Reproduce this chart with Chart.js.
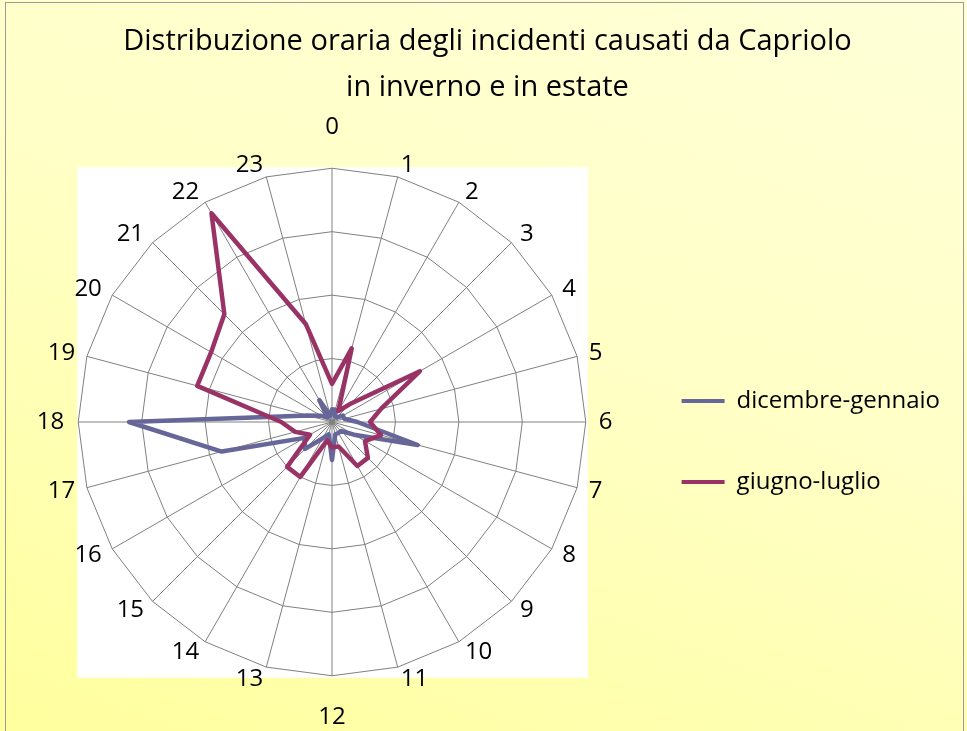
<!DOCTYPE html>
<html><head><meta charset="utf-8">
<script src="https://cdn.jsdelivr.net/npm/chart.js@4.4.1/dist/chart.umd.min.js"></script>
<style>
html,body{margin:0;padding:0;}
body{width:967px;height:731px;overflow:hidden;position:relative;
 background:linear-gradient(200deg,#FFFFD8 0%,#FFFFC6 45%,#FFFF9E 100%);}
#frame{position:absolute;left:5px;top:2px;width:959px;height:740px;border:1px solid #9a9a9a;box-sizing:border-box;}
#wrap{position:absolute;left:0;top:0;width:967px;height:731px;}
</style></head><body>
<div id="frame"></div>
<div id="wrap"><canvas id="c" width="967" height="731"></canvas></div>
<script>
// ---- data ----
const hours = ['0','1','2','3','4','5','6','7','8','9','10','11','12','13','14','15','16','17','18','19','20','21','22','23'];
const seriesNames = ['dicembre-gennaio', 'giugno-luglio'];
const winter = [1, 1, 0.5, 0.5, 1, 1, 2, 7, 2, 1, 1, 1, 3, 1, 1.5, 3, 2.5, 9, 16, 2, 1, 0.5, 2, 0.5];
const summer = [3, 6, 1, 2, 8, 4, 3, 4, 3, 4, 4, 2, 2, 1.5, 5, 5, 2, 3, 4, 11, 11, 12, 19, 8];
const titleLines = ['Distribuzione oraria degli incidenti causati da Capriolo', 'in inverno e in estate'];
const scaleMax = 20;
const scaleStep = 5;

const FONT = "'Open Sans', 'DejaVu Sans', sans-serif";

const plotBg = {
  id: 'plotBg',
  beforeDraw(chart) {
    const s = chart.scales.r;
    const ctx = chart.ctx;
    const R = s.drawingArea;
    ctx.save();
    ctx.fillStyle = '#ffffff';
    ctx.fillRect(s.xCenter - R - 1, s.yCenter - R - 1, 2 * R + 3, 2 * R + 3);
    ctx.restore();
  }
};

function labelPad(ctx) {
  const i = ctx.index;
  if (i % 12 === 0) return 41;
  if (i === 6) return 13;
  if (i === 18) return 14;
  return 12;
}

function build() {
  new Chart(document.getElementById('c'), {
    type: 'radar',
    data: {
      labels: hours,
      datasets: [
        { label: seriesNames[0], data: winter, borderColor: '#666699', backgroundColor: '#666699',
          borderWidth: 4.5, fill: false, pointRadius: 0, pointHoverRadius: 0, tension: 0, order: 1,
          borderJoinStyle: 'round', borderCapStyle: 'round' },
        { label: seriesNames[1], data: summer, borderColor: '#993366', backgroundColor: '#993366',
          borderWidth: 4.5, fill: false, pointRadius: 0, pointHoverRadius: 0, tension: 0, order: 0,
          borderJoinStyle: 'round', borderCapStyle: 'round' }
      ]
    },
    options: {
      responsive: false,
      devicePixelRatio: 1,
      animation: false,
      layout: { padding: { left: 25, right: 17, top: 0, bottom: 13 } },
      scales: {
        r: {
          min: 0, max: scaleMax,
          ticks: { display: false, stepSize: scaleStep },
          grid: { color: '#808080', lineWidth: 1, circular: false },
          angleLines: { color: '#808080', lineWidth: 1 },
          pointLabels: {
            color: '#000',
            font: { family: FONT, size: 24, lineHeight: 0.01 },
            padding: labelPad
          }
        }
      },
      plugins: {
        title: {
          display: true,
          text: titleLines,
          color: '#000',
          font: { family: FONT, size: 29, weight: 'normal', lineHeight: 46 / 29 },
          padding: { top: 19, bottom: 16 }
        },
        legend: {
          position: 'right',
          fullSize: false,
          title: { display: true, text: '', font: { size: 10, lineHeight: 1 }, padding: { top: 28, bottom: 0 } },
          labels: {
            color: '#000',
            font: { family: FONT, size: 24 },
            boxWidth: 43,
            boxHeight: 4,
            padding: 57,
            sort: (a, b) => a.datasetIndex - b.datasetIndex,
            generateLabels: (chart) => Chart.defaults.plugins.legend.labels.generateLabels(chart)
              .map(l => Object.assign({}, l, { lineWidth: 0, fillStyle: l.strokeStyle }))
          }
        },
        tooltip: { enabled: false }
      }
    },
    plugins: [plotBg]
  });
}

if (document.fonts && document.fonts.load) {
  Promise.all([document.fonts.load("24px 'Open Sans'")]).then(build, build);
} else { build(); }
</script>
</body></html>
